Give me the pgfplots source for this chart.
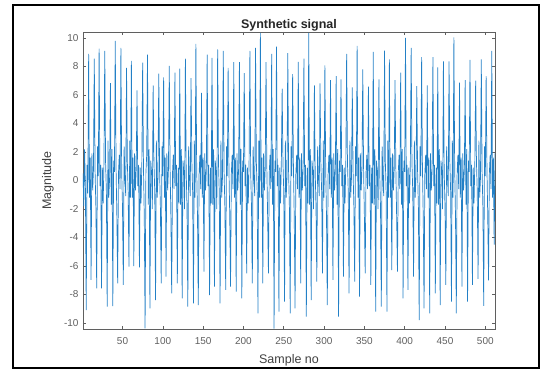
\documentclass[border=0pt]{standalone}
\usepackage{pgfplots}
\pgfplotsset{compat=1.18}
\usepackage{pgfplotstable}
\usepackage{fontspec}
\setmainfont{Liberation Sans}
\definecolor{mblue}{RGB}{35,128,198}
\definecolor{axgray}{RGB}{95,95,95}
\pgfplotstableread{
y
0.5
-1.8
2.2
-0.6
-9.09
1.1
-0.9
8.88
-1.2
1.6
-6.98
1.9
-0.7
0.8
8.55
0.6
-1.9
-7.57
2.4
0.3
9.25
-0.4
1.1
-7.57
0.9
-1.6
1.3
9.1
1.3
-0.8
-8.85
2.8
-1.2
0.2
6.84
-1.7
2.2
-8.81
1.4
0.6
9.8
0.9
-2.5
-7.22
0.5
1.8
-0.6
9.3
0.6
-1.9
-7.33
2.4
0.3
-1.1
7.9
1.3
-0.8
-6.05
2.8
-1.2
8.4
-1.2
1.6
-6.0
1.9
-0.7
0.8
6.33
-0.4
1.1
-6.09
0.9
-1.6
1.3
8.27
0.9
-2.5
-10.37
0.5
1.8
8.83
-1.7
2.2
-8.97
1.4
0.6
-2.0
6.68
1.3
-0.8
-8.39
2.8
-1.2
0.2
7.5
0.6
-1.9
-7.22
2.4
0.3
7.24
-1.2
1.6
-6.75
1.9
-0.7
0.8
8.04
0.9
-2.5
-7.92
0.5
1.8
-0.6
7.57
-0.4
1.1
-7.22
0.9
-1.6
7.85
-1.7
2.2
-8.27
1.4
0.6
-2.0
8.55
0.6
-1.9
-8.85
2.4
0.3
-1.1
7.19
1.3
-0.8
-8.62
2.8
-1.2
9.58
0.9
-2.5
-8.74
0.5
1.8
-0.6
6.14
-1.2
1.6
-6.4
1.9
-0.7
0.8
8.83
-0.4
1.1
-8.04
0.9
-1.6
8.6
-1.7
2.2
-7.45
1.4
0.6
-2.0
9.2
1.3
-0.8
-8.62
2.8
-1.2
0.2
9.1
0.6
-1.9
-7.68
2.4
0.3
7.9
0.9
-2.5
-7.45
0.5
1.8
-0.6
8.3
-1.2
1.6
-7.8
1.9
-0.7
0.8
8.3
-1.7
2.2
-8.27
1.4
0.6
7.54
-0.4
1.1
-6.51
0.9
-1.6
1.3
9.1
0.6
-1.9
-7.22
2.4
0.3
-1.1
9.3
1.3
-0.8
-9.32
2.8
-1.2
10.35
-1.2
1.6
-7.22
1.9
-0.7
0.8
8.3
0.9
-2.5
-6.51
0.5
1.8
-0.6
8.88
-1.7
2.2
-10.4
1.4
0.6
9.4
-0.4
1.1
-9.2
0.9
-1.6
1.3
6.44
1.3
-0.8
-8.5
2.8
-1.2
0.2
8.93
0.6
-1.9
-9.32
2.4
0.3
7.47
0.9
-2.5
-8.97
0.5
1.8
-0.6
8.32
-1.2
1.6
-7.22
1.9
-0.7
0.8
8.55
-0.4
1.1
-9.56
0.9
-1.6
10.35
-1.7
2.2
-8.39
1.4
0.6
-2.0
6.68
0.6
-1.9
-7.1
2.4
0.3
-1.1
6.82
1.3
-0.8
-6.51
2.8
-1.2
8.08
0.9
-2.5
-8.74
0.5
1.8
-0.6
7.05
-1.2
1.6
-6.98
1.9
-0.7
0.8
7.33
-1.7
2.2
-9.56
1.4
0.6
7.1
-0.4
1.1
-6.75
0.9
-1.6
1.3
8.88
1.3
-0.8
-7.92
2.8
-1.2
0.2
6.54
0.6
-1.9
-7.1
2.4
0.3
9.44
-1.2
1.6
-8.15
1.9
-0.7
0.8
7.8
0.9
-2.5
-6.51
0.5
1.8
-0.6
6.58
-0.4
1.1
-7.33
0.9
-1.6
9.02
-1.7
2.2
-9.2
1.4
0.6
-2.0
7.1
0.6
-1.9
-8.85
2.4
0.3
-1.1
9.11
1.3
-0.8
-9.2
2.8
-1.2
8.5
-1.2
1.6
-6.28
1.9
-0.7
0.8
7.05
0.9
-2.5
-6.4
0.5
1.8
-0.6
7.57
-1.7
2.2
-8.27
1.4
0.6
10.0
-0.4
1.1
-7.68
0.9
-1.6
1.3
9.3
1.3
-0.8
-6.75
2.8
-1.2
0.2
6.63
0.6
-1.9
-9.79
2.4
0.3
8.65
0.9
-2.5
-8.97
0.5
1.8
-0.6
6.68
-1.2
1.6
-9.32
1.9
-0.7
0.8
8.65
-0.4
1.1
-7.92
0.9
-1.6
7.94
-1.7
2.2
-8.74
1.4
0.6
-2.0
8.36
0.6
-1.9
-7.33
2.4
0.3
-1.1
8.36
1.3
-0.8
-8.5
2.8
-1.2
10.05
0.9
-2.5
-9.32
0.5
1.8
-0.6
6.86
-1.2
1.6
-7.45
1.9
-0.7
0.8
7.05
-1.7
2.2
-8.5
1.4
0.6
8.46
-0.4
1.1
-7.33
0.9
-1.6
1.3
7.0
1.3
-0.8
-6.9
2.8
-1.2
0.2
8.5
0.6
-1.9
-8.8
2.4
0.3
7.33
0.9
-2.5
-7.0
0.5
1.8
-0.6
9.1
-1.2
1.6
-4.5
1.9
}\sig
\begin{document}
\begin{tikzpicture}[x=1pt,y=1pt]
\useasboundingbox (0,0) rectangle (544,370);
\draw[line width=1.3pt,black] (13,2) rectangle (539,365);
\begin{axis}[
  at={(83pt,41pt)}, anchor=south west,
  scale only axis, width=412pt, height=297pt,
  xmin=1, xmax=512, ymin=-10.42, ymax=10.42,
  xtick={50,100,...,500}, ytick={-10,-8,...,10},
  tick align=inside, major tick length=3pt,
  axis line style={axgray, line width=0.7pt},
  every tick/.style={axgray, line width=0.6pt},
  tick label style={font=\fontsize{10}{11}\selectfont, text=axgray},
  xticklabel style={yshift=-5pt},
  yticklabel style={xshift=-1pt},
  /pgf/number format/assume math mode=true,
  title={Synthetic signal},
  title style={font=\bfseries\fontsize{12.5}{13}\selectfont, text=black!85, at={(axis description cs:0.5,1.003)}, anchor=center},
  xlabel={Sample no},
  xlabel style={font=\fontsize{12.5}{13}\selectfont, text=black!75, at={(axis description cs:0.5,-0.106)}, anchor=center},
  ylabel={Magnitude},
  ylabel style={font=\fontsize{12.5}{13}\selectfont, text=black!75, at={(axis description cs:-0.085,0.5)}, anchor=center},
  clip=true,
]
\addplot[mblue, line width=0.7pt, line join=miter, miter limit=2] table[x expr=\coordindex+1, y=y] {\sig};
\end{axis}
\end{tikzpicture}
\end{document}
